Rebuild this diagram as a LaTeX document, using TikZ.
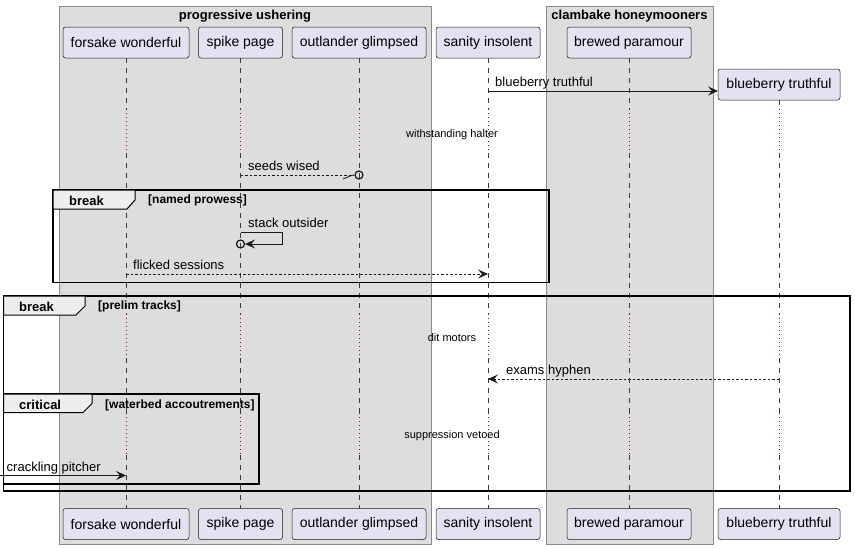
\documentclass[tikz,border=0pt]{standalone}
\usepackage{fontspec}
\setmainfont{Liberation Sans}
\usetikzlibrary{arrows.meta,calc}
\definecolor{partfill}{HTML}{E2E2F0}
\definecolor{partline}{HTML}{181818}
\definecolor{boxfill}{HTML}{DDDDDD}
\definecolor{boxline}{HTML}{8A8A8A}
\definecolor{delaycol}{HTML}{A80036}
\definecolor{tabfill}{HTML}{EEEEEE}
\tikzset{
  groupbox/.style={draw=boxline, fill=boxfill, line width=0.7pt, inner sep=0pt, outer sep=0pt, anchor=north west},
  grouptitle/.style={font=\fontsize{13}{15}\selectfont\bfseries, anchor=base, inner sep=0pt},
  part/.style={draw=partline, fill=partfill, line width=0.5pt, rounded corners=2.5pt, inner sep=0pt, outer sep=0pt, minimum height=31pt, font=\fontsize{14}{16}\selectfont},
  lifeline/.style={draw=partline!85, line width=0.5pt, dash pattern=on 5pt off 5pt},
  delayline/.style={draw=delaycol, line width=1pt, dash pattern=on 1pt off 3pt},
  msg/.style={draw=partline, line width=0.8pt},
  tipped/.style={-{Stealth[length=10pt,width=9pt,inset=4pt]}},
  dmsg/.style={msg, dash pattern=on 2.5pt off 2pt},
  lbl/.style={font=\fontsize{13}{15}\selectfont, anchor=base west, inner sep=0pt},
  delaytxt/.style={font=\fontsize{11}{13}\selectfont, inner sep=0pt},
  framebox/.style={draw=black, line width=1.5pt},
  tab/.style={draw=black, fill=tabfill, line width=1pt},
  tabkw/.style={font=\fontsize{13}{15}\selectfont\bfseries, anchor=base west, inner sep=0pt},
  tabcond/.style={font=\fontsize{12}{14}\selectfont\bfseries, anchor=base west, inner sep=0pt},
  ring/.style={circle, draw=partline, line width=1.2pt, minimum size=8pt, inner sep=0pt},
}
\begin{document}
\begin{tikzpicture}[x=1pt,y=-1pt]
\useasboundingbox (0,0) rectangle (855,549);

% participant groups
\node[groupbox, minimum width=372pt, minimum height=538pt] (g1) at (59,6) {};
\node[grouptitle] (g1t) at (245,19.5) {progressive ushering};
\node[groupbox, minimum width=167pt, minimum height=538pt] (g2) at (546,6) {};
\node[grouptitle] (g2t) at (629.5,19.5) {clambake honeymooners};

% participant heads
\node[part, minimum width=126pt] (fw) at (126,42.5) {forsake wonderful};
\node[part, minimum width=84pt]  (sp) at (240.5,42.5) {spike page};
\node[part, minimum width=134pt] (og) at (359,42.5) {outlander glimpsed};
\node[part, minimum width=104pt] (si) at (488,42.5) {sanity insolent};
\node[part, minimum width=124pt] (bp) at (629,42.5) {brewed paramour};
\node[part, minimum width=122pt] (bt) at (779,84.5) {blueberry truthful};

% participant feet
\node[part, minimum width=126pt] (fw-b) at (126,524) {forsake wonderful};
\node[part, minimum width=84pt]  (sp-b) at (240.5,524) {spike page};
\node[part, minimum width=134pt] (og-b) at (359,524) {outlander glimpsed};
\node[part, minimum width=104pt] (si-b) at (488,524) {sanity insolent};
\node[part, minimum width=124pt] (bp-b) at (629,524) {brewed paramour};
\node[part, minimum width=122pt] (bt-b) at (779,524) {blueberry truthful};

% delay spans
\coordinate (ka) at (0,109);
\coordinate (kb) at (0,153);
\coordinate (kc) at (0,314);
\coordinate (kd) at (0,358);
\coordinate (ke) at (0,413);
\coordinate (kf) at (0,455);

% lifelines, dotted through the delays
\foreach \p in {fw,sp,og,si,bp,bt}{
  \draw[lifeline] (\p.south) -- (\p |- ka);
  \draw[delayline] (\p |- ka) -- (\p |- kb);
  \draw[lifeline] (\p |- kb) -- (\p |- kc);
  \draw[delayline] (\p |- kc) -- (\p |- kd);
  \draw[lifeline] (\p |- kd) -- (\p |- ke);
  \draw[delayline] (\p |- ke) -- (\p |- kf);
  \draw[lifeline] (\p |- kf) -- (\p-b.north);
}

% message levels
\coordinate (y91) at (0,91);
\coordinate (y175) at (0,175);
\coordinate (y232) at (0,232);
\coordinate (y244) at (0,244);
\coordinate (y274) at (0,274);
\coordinate (y379) at (0,379);
\coordinate (src) at (0,475.5);

% creation message
\draw[msg, tipped] (si |- y91) -- (bt.west |- y91);
\node[lbl] (l1) at (495,86.5) {blueberry truthful};

% delay texts
\node[delaytxt] (d1) at (452,134.5) {withstanding halter};
\node[delaytxt] (d2) at (452,338) {dit motors};
\node[delaytxt] (d3) at (452,435.5) {suppression vetoed};

% seeds wised
\node[ring] (c1) at (og |- y175) {};
\draw[dmsg] (sp |- y175) -- (c1.west);
\draw[msg] ($(c1.west)+(-1.5,0)$) -- ++(-10,4);
\node[lbl] (l2) at (248,170.5) {seeds wised};

% stack outsider (self message)
\node[ring] (c2) at (sp |- y244) {};
\draw[msg, tipped] (sp |- y232) -- ++(42,0) -- ++(0,12) -- (c2.east);
\node[lbl] (l3) at (248,227.5) {stack outsider};

% flicked sessions
\draw[dmsg, tipped] (fw |- y274) -- (si |- y274);
\node[lbl] (l4) at (133,269.5) {flicked sessions};

% exams hyphen
\draw[dmsg, tipped] (bt |- y379) -- (si |- y379);
\node[lbl] (l5) at (506,374.5) {exams hyphen};

% crackling pitcher
\draw[msg, tipped] (src) -- (fw |- src);
\node[lbl] (l6) at (6.5,471) {crackling pitcher};

% break [named prowess]
\draw[framebox] (53,190) rectangle (549,282.5);
\draw[tab] (53,190) -- (135,190) -- (135,200) -- (127,209) -- (53,209) -- cycle;
\node[tabkw] (k1) at (69,205) {break};
\node[tabcond] (k1c) at (148,203.5) {[named prowess]};

% break [prelim tracks]
\draw[framebox] (3.5,296) rectangle (850,491);
\draw[tab] (3.5,296) -- (85,296) -- (85,306) -- (76,315) -- (3.5,315) -- cycle;
\node[tabkw] (k2) at (19,311) {break};
\node[tabcond] (k2c) at (98,309) {[prelim tracks]};

% critical [waterbed accoutrements]
\draw[framebox] (3.5,394) rectangle (259,484);
\draw[tab] (3.5,394) -- (92,394) -- (92,403.5) -- (83,412.5) -- (3.5,412.5) -- cycle;
\node[tabkw] (k3) at (19,409) {critical};
\node[tabcond] (k3c) at (105,408) {[waterbed accoutrements]};
\end{tikzpicture}
\end{document}
